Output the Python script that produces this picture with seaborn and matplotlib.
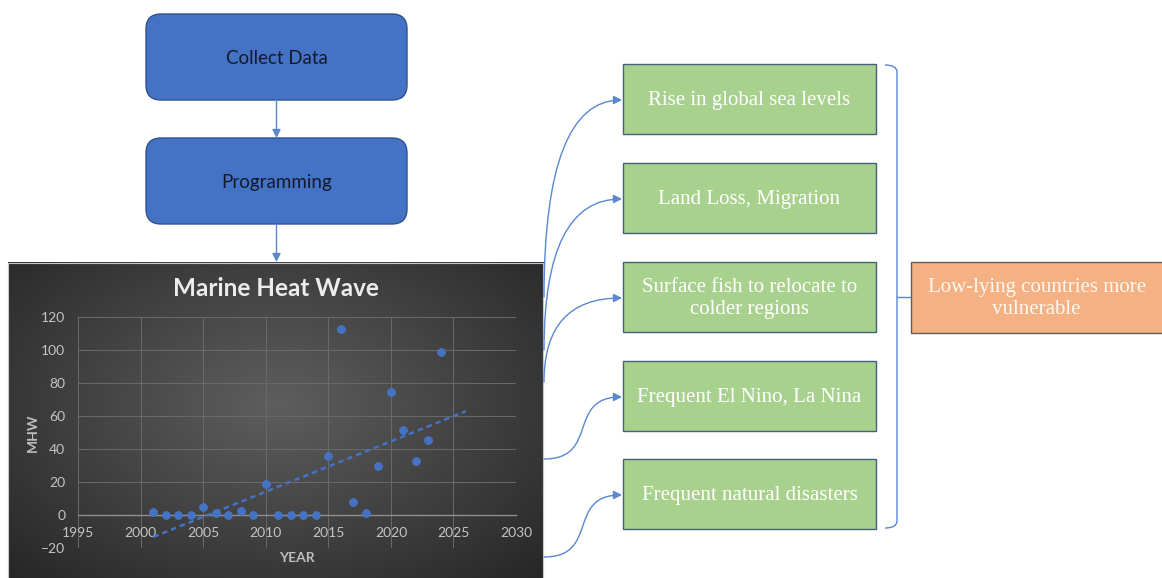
import numpy as np
import matplotlib
matplotlib.use("Agg")
import matplotlib.pyplot as plt
import seaborn as sns
from matplotlib.patches import FancyBboxPatch, Rectangle, FancyArrowPatch, PathPatch
from matplotlib.path import Path

# chart data
years = [2001, 2002, 2003, 2004, 2005, 2006, 2007, 2008, 2009, 2010, 2011, 2012,
         2013, 2014, 2015, 2016, 2017, 2018, 2019, 2020, 2021, 2022, 2023, 2024]
mhw = [2.2, 0.4, 0.4, 0.4, 5.1, 1.6, 0.4, 2.4, 0.4, 18.6, 0.4, 0.4,
       0.4, 0.4, 35.7, 112.5, 8.2, 1.6, 29.8, 74.3, 51.6, 32.7, 45.5, 98.8]
trend_years = [2001, 2026]
x_ticks = [1995, 2000, 2005, 2010, 2015, 2020, 2025, 2030]
y_ticks = [-20, 0, 20, 40, 60, 80, 100, 120]
chart_title = "Marine Heat Wave"
x_label = "YEAR"
y_label = "MHW"

# diagram text
flow_steps = ["Collect Data", "Programming"]
impacts = ["Rise in global sea levels", "Land Loss, Migration",
           "Surface fish to relocate to\ncolder regions",
           "Frequent El Nino, La Nina", "Frequent natural disasters"]
outcome = "Low-lying countries more\nvulnerable"

W, H = 1162, 578
fig = plt.figure(figsize=(W / 100, H / 100), dpi=100)
fig.patch.set_facecolor("white")

canvas = fig.add_axes([0, 0, 1, 1])
canvas.axis("off")

link = "#5a87d0"
sans = ["Lato", "DejaVu Sans"]

# dark gradient panel behind the chart
ny, nx = 200, 320
yy, xx = np.mgrid[0:1:ny * 1j, 0:1:nx * 1j]
r = np.sqrt(((xx - 0.5) / 0.5) ** 2 + ((yy - 0.45) / 0.55) ** 2) / np.sqrt(2)
r = np.clip(r, 0, 1)
c0, c1 = np.array([0.37, 0.37, 0.37]), np.array([0.15, 0.15, 0.15])
grad = c0[None, None, :] + (c1 - c0)[None, None, :] * r[..., None]
canvas.imshow(grad, extent=(8, 543.3, 578, 262.7), aspect="auto", zorder=0)
canvas.add_patch(Rectangle((8, 262.7), 535.3, 320, fill=False, ec="#c8c8c8", lw=0.8, zorder=1))
canvas.text(276, 288.5, chart_title, ha="center", va="center", fontsize=17.5,
            fontweight="bold", color="#ececec", family=sans)

# flow boxes on the left
for i, step in enumerate(flow_steps):
    top = 14 + i * 124
    canvas.add_patch(FancyBboxPatch((146, top), 261, 86,
                                    boxstyle="round,pad=0,rounding_size=15",
                                    fc="#4472c4", ec="#2f528f", lw=1))
    canvas.text(276.5, top + 44.5, step, ha="center", va="center", fontsize=13.5,
                color="#141a2a", family=sans)
    canvas.add_patch(FancyArrowPatch((276.5, top + 86), (276.5, top + 124),
                                     arrowstyle="-|>,head_length=5,head_width=2.5",
                                     color=link, lw=1, shrinkA=0, shrinkB=0))

# impact boxes
tops = [64, 163, 262, 361, 459]
starts = [297, 350, 382, 459, 557]
for i, (txt, top) in enumerate(zip(impacts, tops)):
    canvas.add_patch(Rectangle((623, top), 253, 70, fc="#a9d18e", ec="#44607f", lw=1))
    canvas.text(749.5, top + 36.5, txt, ha="center", va="center", fontsize=15,
                color="white", family="Liberation Serif", linespacing=1.28)
    ye = top + 36
    ys = starts[i]
    if i < 3:
        verts = [(544, ys), (544, ye), (622, ye)]
        codes = [Path.MOVETO, Path.CURVE3, Path.CURVE3]
    else:
        verts = [(544, ys), (600, ys), (566, ye), (622, ye)]
        codes = [Path.MOVETO, Path.CURVE4, Path.CURVE4, Path.CURVE4]
    canvas.add_patch(FancyArrowPatch(path=Path(verts, codes),
                                     arrowstyle="-|>,head_length=5,head_width=2.5",
                                     color=link, lw=1))

# bracket and outcome box
bv = [(885, 65), (897, 65), (897, 72), (897, 521), (897, 528), (885, 528)]
bc = [Path.MOVETO, Path.CURVE3, Path.CURVE3, Path.LINETO, Path.CURVE3, Path.CURVE3]
canvas.add_patch(PathPatch(Path(bv, bc), fill=False, ec=link, lw=1))
canvas.plot([897, 910], [297, 297], color=link, lw=1)
canvas.add_patch(Rectangle((910.7, 262), 270, 71, fc="#f4b183", ec="#5f5f5f", lw=1))
canvas.text(1036.7, 298.5, outcome, ha="center", va="center", fontsize=15,
            color="#fff8f2", family="Liberation Serif", linespacing=1.28)

canvas.set_xlim(0, W)
canvas.set_ylim(H, 0)

# the scatter chart
ax = fig.add_axes([78.3 / W, 1 - 548.3 / H, (516 - 78.3) / W, (548.3 - 316.7) / H])
ax.set_facecolor("none")
sns.scatterplot(x=years, y=mhw, ax=ax, color="#4472c4", s=32, edgecolor="#4a78cc",
                linewidth=0.5, zorder=4)
slope, icpt = np.polyfit(years, mhw, 1)
trend = [slope * t + icpt for t in trend_years]
sns.lineplot(x=trend_years, y=trend, ax=ax, color="#4472c4", lw=1.8,
             linestyle=(0, (2.2, 1.6)), zorder=3)

ax.set_xlim(1995, 2030)
ax.set_ylim(-20, 120)
ax.set_xticks(x_ticks)
ax.set_yticks(y_ticks)
ax.grid(True, color="#6a6a6a", lw=0.7)
ax.set_axisbelow(True)
for side in ["left", "right", "top"]:
    ax.spines[side].set_visible(False)
ax.spines["bottom"].set_position(("data", 0))
ax.spines["bottom"].set_color("#8f8f8f")
ax.spines["bottom"].set_linewidth(1)
ax.tick_params(axis="both", length=0, labelsize=10, labelcolor="#c4c4c4")
ax.tick_params(axis="x", pad=8.5)
ax.tick_params(axis="y", pad=9.4)
for lab in ax.get_xticklabels() + ax.get_yticklabels():
    lab.set_family(sans)

ax.set_xlabel(x_label, fontsize=10, fontweight="bold", color="#bdbdbd", family=sans)
ax.set_ylabel(y_label, fontsize=10, fontweight="bold", color="#bdbdbd", family=sans)
ax.xaxis.label.set_va("center")
ax.yaxis.label.set_va("center")
ax.xaxis.set_label_coords(0.5003, -0.042)
ax.yaxis.set_label_coords(-0.1044, 0.498)

fig.savefig("out.png", dpi=100)
